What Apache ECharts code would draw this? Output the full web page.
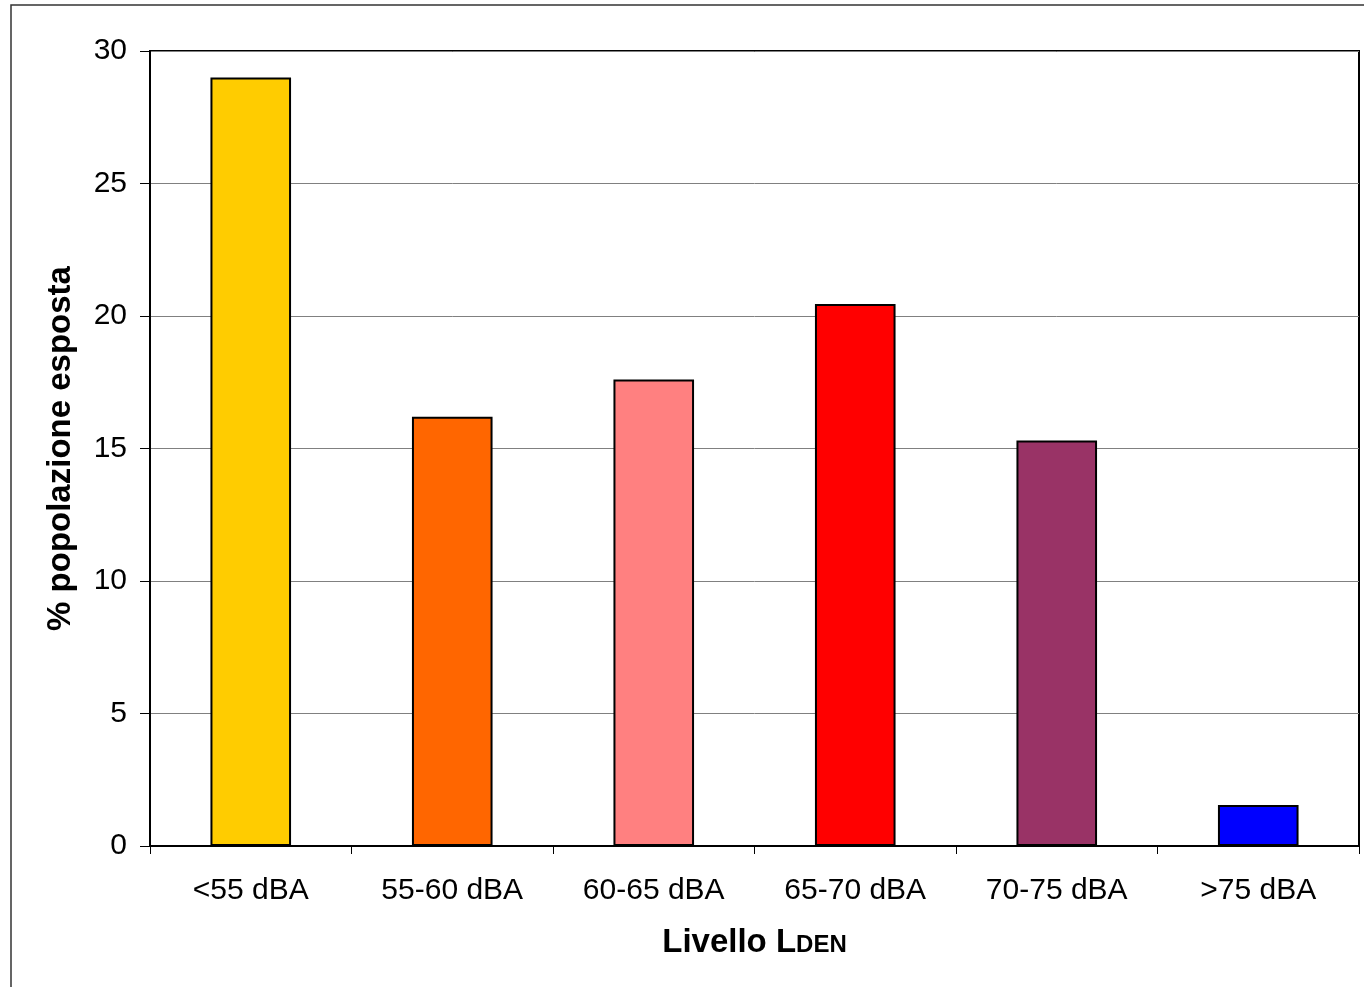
<!DOCTYPE html>
<html>
<head>
<meta charset="utf-8">
<script src="https://cdn.jsdelivr.net/npm/echarts@6/dist/echarts.min.js"></script>
<style>
html,body{margin:0;padding:0;background:#fff;}
#c{width:1364px;height:987px;}
</style>
</head>
<body>
<div id="c"></div>
<script>
const categories = ['<55 dBA', '55-60 dBA', '60-65 dBA', '65-70 dBA', '70-75 dBA', '>75 dBA'];
const values = [29.0, 16.2, 17.6, 20.45, 15.3, 1.55];
const colors = ['#FFCC00', '#FF6600', '#FF8080', '#FF0000', '#993366', '#0000FF'];
const yTicks = [0, 5, 10, 15, 20, 25, 30];

const chart = echarts.init(document.getElementById('c'), null, {renderer: 'canvas'});
const font = 'Liberation Sans, Arial, sans-serif';
chart.setOption({
  animation: false,
  backgroundColor: '#fff',
  graphic: [{
    type: 'rect', silent: true, z: -10,
    shape: {x: 11, y: 5, width: 1400, height: 1010},
    style: {fill: 'none', stroke: '#333', lineWidth: 1.5}
  }],
  grid: {left: 150, right: 5, top: 51, bottom: 141, show: true, borderColor: '#000', borderWidth: 2, containLabel: false},
  xAxis: {
    type: 'category',
    data: categories,
    axisLine: {lineStyle: {color: '#000', width: 2}},
    axisTick: {show: true, length: 8, lineStyle: {color: '#000', width: 1}},
    axisLabel: {color: '#000', fontFamily: font, fontSize: 30, margin: 30},
    name: 'Livello L{s|DEN}',
    nameLocation: 'middle',
    nameGap: 80,
    nameTextStyle: {
      color: '#000', fontFamily: font, fontSize: 33, fontWeight: 'bold',
      rich: {s: {fontFamily: font, fontSize: 24, fontWeight: 'bold', color: '#000', verticalAlign: 'bottom', padding: [0,0,2,0]}}
    }
  },
  yAxis: {
    type: 'value',
    min: 0, max: 30, interval: 5,
    axisLine: {show: true, lineStyle: {color: '#000', width: 2}},
    axisTick: {show: true, length: 10, lineStyle: {color: '#000', width: 1}},
    axisLabel: {color: '#000', fontFamily: font, fontSize: 30, margin: 23,
      formatter: v => yTicks.includes(v) ? String(v) : ''},
    splitLine: {show: true, lineStyle: {color: '#808080', width: 1}},
    name: '% popolazione esposta',
    nameLocation: 'middle',
    nameGap: 73,
    nameTextStyle: {color: '#000', fontFamily: font, fontSize: 33, fontWeight: 'bold'}
  },
  series: [{
    type: 'bar',
    data: values.map((v, i) => ({value: v, itemStyle: {color: colors[i]}})),
    barWidth: '40%',
    itemStyle: {borderColor: '#000', borderWidth: 2}
  }]
});
</script>
</body>
</html>
